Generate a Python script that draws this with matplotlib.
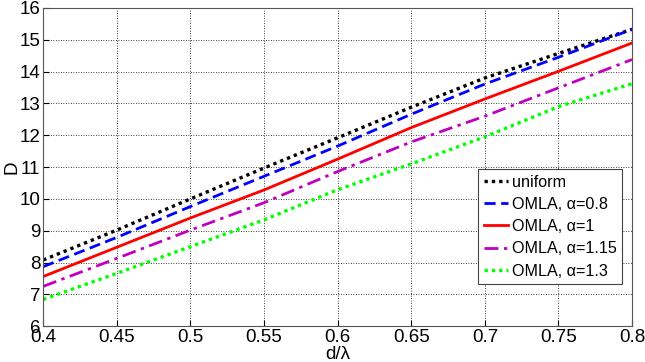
import numpy as np
import matplotlib.pyplot as plt

plt.rcParams['font.family'] = ['Liberation Sans', 'DejaVu Sans']

# d/lambda sample points
d_lambda = [0.40, 0.45, 0.50, 0.55, 0.60, 0.65, 0.70, 0.75, 0.80]

# directivity D
D_uniform = [8.08, 9.02, 10.00, 10.97, 11.92, 12.88, 13.80, 14.57, 15.33]
D_a080 = [7.87, 8.79, 9.76, 10.71, 11.66, 12.66, 13.61, 14.45, 15.33]
D_a100 = [7.56, 8.48, 9.40, 10.28, 11.25, 12.24, 13.14, 14.01, 14.90]
D_a115 = [7.25, 8.13, 9.02, 9.88, 10.86, 11.79, 12.60, 13.49, 14.38]
D_a130 = [6.84, 7.66, 8.50, 9.34, 10.29, 11.10, 11.95, 12.90, 13.62]

labels = ['uniform', 'OMLA, α=0.8', 'OMLA, α=1', 'OMLA, α=1.15', 'OMLA, α=1.3']

fig = plt.figure(figsize=(6.45, 3.62), dpi=100)
ax = fig.add_axes([0.067, 0.099, 0.913, 0.879])

ax.plot(d_lambda, D_uniform, color='black', linestyle=(0, (1, 1.2)), lw=2.4, label=labels[0])
ax.plot(d_lambda, D_a080, color='blue', linestyle=(0, (4, 2)), lw=2, label=labels[1])
ax.plot(d_lambda, D_a100, color='red', linestyle='-', lw=2, label=labels[2])
ax.plot(d_lambda, D_a115, color='#c000c0', linestyle=(0, (5, 2, 1.2, 2)), lw=2, label=labels[3])
ax.plot(d_lambda, D_a130, color='#00ff00', linestyle=(0, (1, 1.2)), lw=2.4, label=labels[4])

ax.set_xlim(0.4, 0.8)
ax.set_ylim(6, 16)
ax.set_xticks(np.arange(0.4, 0.81, 0.05))
ax.set_xticklabels(['0.4', '0.45', '0.5', '0.55', '0.6', '0.65', '0.7', '0.75', '0.8'])
ax.set_yticks(range(6, 17))
ax.tick_params(direction='in', labelsize=13.5, length=4, pad=2)
ax.grid(True, color='black', linestyle=(0, (1, 2)), linewidth=0.6)
for sp in ax.spines.values():
    sp.set_color('#555555')

ax.set_xlabel('d/λ', fontsize=13.5, labelpad=0)
ax.set_ylabel('D', fontsize=13.5, labelpad=-1)

leg = ax.legend(loc='lower right', bbox_to_anchor=(0.983, 0.132), fontsize=11.6,
                fancybox=False, handlelength=1.55, handletextpad=0.2,
                borderpad=0.35, labelspacing=0.45, framealpha=1,
                borderaxespad=0)
leg.get_frame().set_edgecolor('#444444')
leg.get_frame().set_linewidth(0.8)

fig.savefig('out.png', dpi=100)
